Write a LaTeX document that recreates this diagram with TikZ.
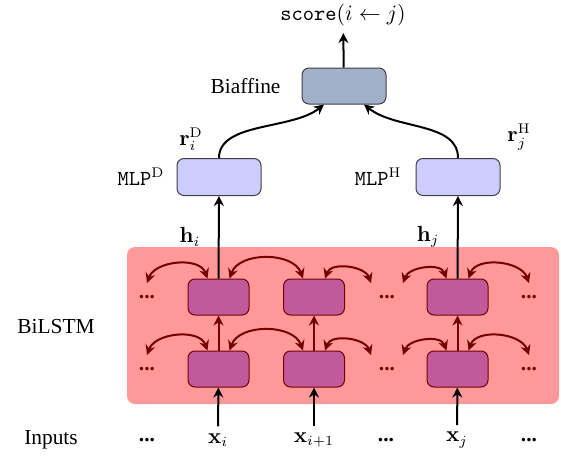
\documentclass[tikz,border=0pt]{standalone}
\usepackage[no-math]{fontspec}
\setmainfont{Liberation Serif}
\usetikzlibrary{arrows.meta, positioning}
\definecolor{lstmbg}{RGB}{255,153,153}
\definecolor{cellfill}{RGB}{192,90,155}
\definecolor{darkred}{RGB}{118,0,0}
\definecolor{mlpfill}{RGB}{204,204,255}
\definecolor{biaffill}{RGB}{160,176,200}

\begin{document}
\begin{tikzpicture}[
    x=0.5pt, y=0.5pt,
    font=\fontsize{10.7}{13}\selectfont,
    cell/.style={draw=darkred, fill=cellfill, rounded corners=3.5pt, minimum width=30.5pt, minimum height=18pt, line width=0.5pt},
    mlp/.style={draw=black!75, fill=mlpfill, rounded corners=3.5pt, minimum width=42pt, minimum height=18.5pt, line width=0.5pt},
    biaf/.style={draw=black!75, fill=biaffill, rounded corners=3.5pt, minimum width=42pt, minimum height=18pt, line width=0.5pt},
    dd/.style={font=\fontsize{10.7}{13}\selectfont\bfseries},
    lab/.style={inner sep=1pt},
    arr/.style={-{Stealth[length=5pt, width=5pt]}, line width=1pt},
    rarr/.style={arr, darkred},
    bi/.style={{Stealth[length=5pt, width=5pt]}-{Stealth[length=5pt, width=5pt]}, line width=1pt, darkred, out=70, in=110}
]
\useasboundingbox (0,0) rectangle (561,-455);
\fill[lstmbg, rounded corners=4pt] (127,-247) rectangle (559,-404);

\node[cell] (u1) at (218.5,-297) {};
\node[cell] (u2) at (314,-297) {};
\node[cell] (u3) at (457.5,-297) {};
\node[cell] (l1) at (218.5,-369) {};
\node[cell] (l2) at (314,-369) {};
\node[cell] (l3) at (457.5,-369) {};
\node[dd, darkred] (ud1) at (147,-297) {...};
\node[dd, darkred] (ud2) at (387,-297) {...};
\node[dd, darkred] (ud3) at (529,-297) {...};
\node[dd, darkred] (ld1) at (147,-369) {...};
\node[dd, darkred] (ld2) at (387,-369) {...};
\node[dd, darkred] (ld3) at (529,-369) {...};
\node (bilstm) at (56,-327) {BiLSTM};

\node (inputs) at (51,-440) {Inputs};
\node[dd] (id1) at (147,-440) {...};
\node (xi) at (218,-440) {$\mathbf{x}_i$};
\node (xii) at (314,-440) {$\mathbf{x}_{i+1}$};
\node[dd] (id2) at (386,-440) {...};
\node (xj) at (457,-440) {$\mathbf{x}_j$};
\node[dd] (id3) at (529,-440) {...};

\node[mlp] (mlpd) at (219,-177) {};
\node[mlp] (mlph) at (458,-177) {};
\node[left=2.5pt of mlpd] (mlpdlab) {\texttt{MLP}$^{\mathrm{D}}$};
\node[left=3.5pt of mlph] (mlphlab) {\texttt{MLP}$^{\mathrm{H}}$};
\node[biaf] (biaffine) at (344,-86) {};
\node[left=7pt of biaffine] (biaflab) {Biaffine};
\node (score) at (343,-15) {\texttt{score}$(i \leftarrow j)$};

\node[lab] (hi) at (190,-237) {$\mathbf{h}_i$};
\node[lab] (hj) at (428,-237) {$\mathbf{h}_j$};
\node[lab] (ri) at (191,-139) {$\mathbf{r}_i^{\mathrm{D}}$};
\node[lab] (rj) at (519,-137) {$\mathbf{r}_j^{\mathrm{H}}$};

\draw[arr] (xi) -- (l1);
\draw[arr] (xii) -- (l2);
\draw[arr] (xj) -- (l3);
\draw[rarr] (l1) -- (u1);
\draw[rarr] (l2) -- (u2);
\draw[rarr] (l3) -- (u3);
\draw[arr] (u1) -- (mlpd);
\draw[arr] (u3) -- (mlph);
\draw[arr] (mlpd.north) .. controls (219,-122) and (292,-130) .. ([xshift=-10pt]biaffine.south);
\draw[arr] (mlph.north) .. controls (458,-122) and (396,-130) .. ([xshift=10pt]biaffine.south);
\draw[arr] (biaffine) -- (score);

\draw[bi] ([yshift=7pt]ud1.center) to ([xshift=-5.5pt]u1.north);
\draw[bi] ([xshift=5.5pt]u1.north) to ([xshift=-5.5pt]u2.north);
\draw[bi] ([xshift=5.5pt]u2.north) to ([shift={(-8pt,7pt)}]ud2.center);
\draw[bi] ([shift={(8pt,7pt)}]ud2.center) to ([xshift=-5.5pt]u3.north);
\draw[bi] ([xshift=5.5pt]u3.north) to ([yshift=7pt]ud3.center);
\draw[bi] ([yshift=7pt]ld1.center) to ([xshift=-5.5pt]l1.north);
\draw[bi] ([xshift=5.5pt]l1.north) to ([xshift=-5.5pt]l2.north);
\draw[bi] ([xshift=5.5pt]l2.north) to ([shift={(-8pt,7pt)}]ld2.center);
\draw[bi] ([shift={(8pt,7pt)}]ld2.center) to ([xshift=-5.5pt]l3.north);
\draw[bi] ([xshift=5.5pt]l3.north) to ([yshift=7pt]ld3.center);
\end{tikzpicture}
\end{document}
